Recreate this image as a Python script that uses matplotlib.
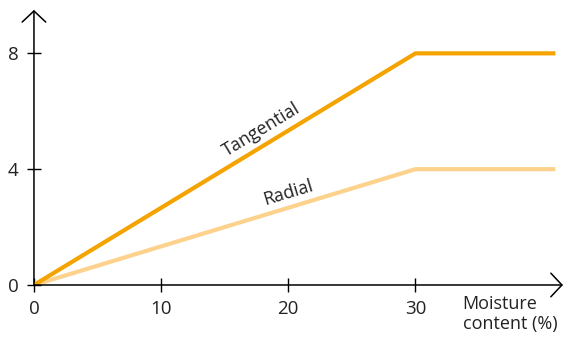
import matplotlib.pyplot as plt
import numpy as np

plt.rcParams["font.family"] = ["Open Sans", "DejaVu Sans"]

# Shrinkage (%) vs moisture content (%)
moisture = [0, 30, 41]
tangential = [0, 8, 8]
radial = [0, 4, 4]
xticks = [0, 10, 20, 30]
yticks = [0, 4, 8]

TAN_COLOR = "#F5A300"
RAD_COLOR = "#FDD28C"

fig = plt.figure(figsize=(5.66, 3.42), dpi=100)
ax = fig.add_axes([0.060, 0.1667, 0.9347, 0.8043])
ax.set_xlim(0, 41.6)
ax.set_ylim(0, 9.5)

ax.plot(moisture, radial, color=RAD_COLOR, lw=3.0, solid_capstyle="butt", zorder=2)
ax.plot(moisture, tangential, color=TAN_COLOR, lw=3.0, solid_capstyle="butt", zorder=3)

for s in ax.spines.values():
    s.set_visible(False)

# axis lines with open arrow heads
arrow = dict(arrowstyle="->,head_length=0.8,head_width=0.85", lw=1.1, color="black",
             shrinkA=0, shrinkB=0)
ax.annotate("", xy=(1, 0), xytext=(0, 0), xycoords="axes fraction", arrowprops=arrow,
            annotation_clip=False)
ax.annotate("", xy=(0, 1), xytext=(0, 0), xycoords="axes fraction", arrowprops=arrow,
            annotation_clip=False)

ax.set_xticks(xticks)
ax.set_yticks(yticks)
ax.tick_params(direction="inout", length=10, width=1.0, labelsize=13.5, colors="black",
               labelcolor="#222222")
ax.tick_params(axis="x", pad=6)
ax.tick_params(axis="y", pad=6)

ax.text(33.7, -0.35, "Moisture\ncontent (%)", ha="left", va="top", fontsize=13,
        color="#222222", linespacing=1.1, clip_on=False)

# inline series labels, rotated to follow the lines on screen
def screen_angle(x0, y0, x1, y1):
    p0 = ax.transData.transform((x0, y0))
    p1 = ax.transData.transform((x1, y1))
    return np.degrees(np.arctan2(p1[1] - p0[1], p1[0] - p0[0]))

ax.text(17.9, 5.35, "Tangential", rotation=screen_angle(0, 0, 30, 8), ha="center",
        va="center", fontsize=13, color="#222222", rotation_mode="anchor")
ax.text(20.0, 3.2, "Radial", rotation=screen_angle(0, 0, 30, 4), ha="center",
        va="center", fontsize=13, color="#222222", rotation_mode="anchor")

fig.savefig("out.png", dpi=100)
